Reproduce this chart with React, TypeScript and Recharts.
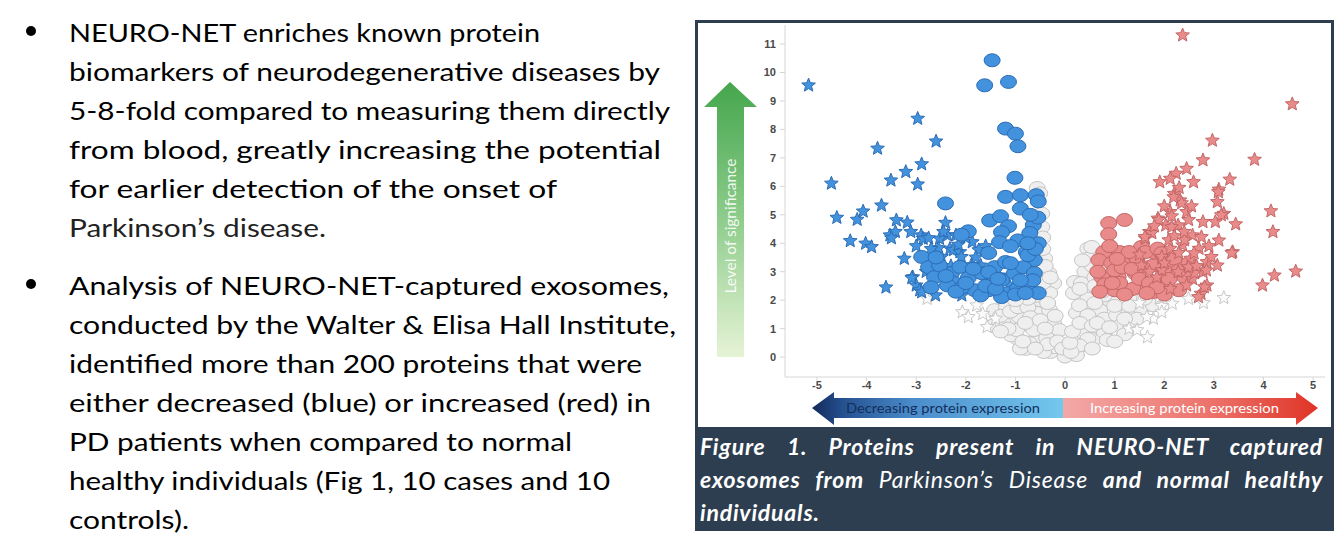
import { Scatter, ScatterChart, XAxis, YAxis } from "recharts"

// log2 fold change (x) vs significance (y)
const greyCircles: [number, number][] = [
  [-0.56, 5.94], [-0.51, 5.75], [-0.47, 5.04], [-0.47, 4.57], [-0.45, 4.2], [-0.41, 3.46],
  [-0.41, 2.93], [-0.37, 2.52], [-0.33, 2.95], [-0.46, 2.05], [-0.23, 2.6], [-0.31, 2.25],
  [-0.87, 1.93], [-1.2, 1.82], [-1.37, 1.58], [-1.45, 1.11], [-1.04, 1.35], [-0.95, 0.64],
  [-0.71, 1.11], [-0.62, 1.58], [-0.54, 0.64], [-0.46, 0.29], [-0.29, 0.18], [0, 0.02],
  [-0.21, 0.76], [-0.29, 1.35], [-0.79, 0.29], [-1.08, 0.76], [-1.42, 1.65], [-1.18, 1.76],
  [-0.84, 1.9], [-0.51, 2.0], [-0.92, 1.41], [-0.57, 1.55], [-0.31, 1.65], [-0.23, 1.19],
  [-0.63, 0.95], [-0.98, 0.95], [-0.72, 0.49], [-0.37, 0.67], [-0.21, 0.35], [-0.43, 0.18],
  [-0.11, 0.95], [-1.25, 1.2], [-0.9, 0.3], [-1.3, 1.45], [-1.1, 1.6], [-0.95, 1.75],
  [-0.75, 1.75], [-0.7, 1.4], [-0.8, 1.2], [-0.5, 1.3], [-0.4, 1.0], [-0.35, 0.45], [-0.6, 0.3],
  [-0.85, 0.55], [-1.15, 1.0], [-1.3, 0.9], [-0.15, 0.55], [-0.05, 0.3], [-0.6, 2.15],
  [-0.75, 2.05], [-1.0, 2.0], [-0.45, 2.6], [-0.4, 3.2], [-0.45, 3.8], [-0.35, 1.9], [-0.2, 1.45],
  [-0.3, 2.8],
  [0.23, 0.07], [0.43, 0.42], [0.37, 0.84], [0.63, 0.67], [0.23, 1.55], [0.43, 1.9],
  [0.57, 1.41], [0.7, 1.65], [0.9, 2.0], [0.98, 1.3], [1.1, 1.65], [0.5, 2.35], [0.84, 2.43],
  [1.24, 2.11], [1.38, 1.76], [0.17, 2.25], [0.19, 2.64], [0.74, 0.95], [0.46, 3.81],
  [0.46, 3.46], [0.4, 3.0], [0.33, 2.6], [0.46, 2.05], [0.29, 1.82], [0.46, 1.47], [0.79, 1.35],
  [1.04, 1.47], [1.29, 1.58], [1.54, 1.7], [1.78, 1.82], [0.79, 0.88], [0.46, 0.64],
  [0.29, 0.41], [0.12, 0.18], [1.04, 2.05], [1.37, 2.0], [0.79, 2.17], [1.12, 1.11],
  [1.45, 1.35], [0.54, 3.87], [0.55, 3.2], [0.6, 2.8], [1.6, 2.05], [1.2, 0.8],
  [0.1, 0.5], [0.15, 0.9], [0.3, 1.2], [0.55, 1.1], [0.65, 1.2], [0.9, 1.05], [0.6, 1.9],
  [0.75, 2.3], [1.0, 1.8], [1.2, 1.35], [1.3, 1.8], [0.35, 3.4], [0.3, 2.4], [0.55, 0.3],
  [0.85, 0.6], [1.0, 0.55], [0.6, 2.5], [1.15, 2.3],
]

const greyStars: [number, number][] = [
  [-2.78, 2.05], [-2.07, 1.58], [-1.95, 1.41], [-1.66, 1.52], [-1.78, 1.82], [-1.57, 1.06],
  [-1.4, 1.35], [2.49, 2.05], [2.79, 1.9], [3.2, 2.08], [2.16, 1.88], [1.95, 1.8], [1.66, 0.7],
  [1.78, 1.35], [1.29, 1.0], [1.95, 1.58], [1.65, 1.41], [1.5, 1.9], [1.45, 0.95], [1.9, 2.1],
]

const blueStars: [number, number][] = [
  [-5.17, 9.55], [-4.71, 6.1], [-4.6, 4.9], [-4.33, 4.08], [-4.19, 4.83], [-4.07, 5.12],
  [-4.02, 3.99], [-3.9, 3.87], [-3.78, 7.33], [-3.7, 5.33], [-3.61, 2.45], [-3.51, 6.21],
  [-3.53, 4.28], [-3.4, 4.81], [-3.42, 4.4], [-3.24, 3.46], [-3.21, 6.51], [-3.18, 4.73],
  [-3.11, 4.4], [-3.07, 2.81], [-3.0, 2.52], [-2.97, 6.07], [-2.97, 8.38], [-2.89, 6.78],
  [-2.9, 4.28], [-2.93, 2.35], [-2.86, 4.16], [-2.6, 7.58], [-2.61, 2.17], [-2.41, 4.72],
  [-2.37, 4.28], [-2.32, 3.81], [-2.49, 3.52], [-2.53, 4.16], [-2.55, 3.83], [-2.25, 3.76],
  [-2.2, 4.28], [-2.12, 3.69], [-1.87, 4.04], [-1.74, 3.76], [-2.08, 2.17], [-1.7, 3.22],
  [-1.54, 2.64], [-1.33, 2.87], [-1.12, 2.52], [-2.53, 2.99], [-3.09, 2.78], [-2.89, 2.28],
  [-2.75, 4.18], [-2.09, 3.52], [-1.89, 3.23], [-3.5, 4.18], [-2.3, 3.2], [-1.6, 3.9],
  [-1.95, 2.8], [-2.7, 3.8], [-2.45, 4.4], [-2.15, 3.95], [-2.0, 4.2], [-1.8, 3.5], [-2.8, 3.0],
  [-3.0, 3.9],
]

const blueCircles: [number, number][] = [
  [-1.47, 10.43], [-1.62, 9.55], [-1.14, 9.67], [-1.2, 8.03], [-1.0, 7.85], [-0.95, 7.41],
  [-1.01, 6.3], [-1.2, 5.63], [-0.9, 5.69], [-0.58, 5.69], [-0.9, 5.22], [-0.54, 5.47],
  [-2.41, 5.4], [-1.52, 4.8], [-1.3, 4.95], [-1.14, 4.6], [-1.28, 4.39], [-0.64, 4.64],
  [-0.71, 4.36], [-0.54, 4.0], [-1.32, 4.04], [-1.95, 4.42], [-2.09, 4.3], [-0.78, 3.69],
  [-1.54, 3.66], [-0.62, 3.41], [-2.89, 3.52], [-2.75, 3.16], [-2.63, 2.81], [-2.29, 2.95],
  [-2.23, 2.6], [-1.95, 2.78], [-1.68, 2.95], [-1.42, 3.16], [-1.28, 2.71], [-1.02, 2.95],
  [-0.84, 3.16], [-0.74, 2.6], [-0.54, 2.25], [-1.14, 2.25], [-1.54, 2.35], [-1.82, 2.35],
  [-2.09, 2.43], [-1.28, 2.11], [-0.62, 2.95], [-2.53, 3.22], [-2.12, 3.17], [-1.2, 3.34],
  [-0.75, 3.58], [-0.96, 2.4], [-1.7, 2.17], [-2.37, 2.52], [-1.54, 2.99], [-0.95, 4.1],
  [-1.1, 3.9], [-2.6, 3.5], [-2.4, 2.85], [-2.2, 2.3], [-2.0, 2.6], [-1.85, 3.1], [-1.6, 2.5],
  [-1.4, 2.4], [-1.0, 2.2], [-0.8, 2.25], [-0.65, 2.7], [-0.6, 3.8], [-0.75, 4.0], [-1.1, 3.3],
  [-0.9, 2.7], [-1.35, 2.75], [-2.7, 2.45], [-0.55, 4.9], [-0.7, 5.0],
]

const redCircles: [number, number][] = [
  [0.88, 4.71], [1.2, 4.82], [0.88, 4.32], [0.78, 3.69], [1.1, 3.69], [0.68, 3.41], [0.94, 3.3],
  [1.28, 3.41], [1.54, 3.87], [0.74, 2.81], [1.07, 2.81], [1.41, 2.95], [1.68, 3.16],
  [1.28, 2.35], [1.61, 2.46], [1.95, 2.6], [1.81, 3.66], [2.15, 3.3], [1.0, 2.35], [2.41, 2.81],
  [2.29, 2.35], [0.66, 3.0], [1.0, 3.05], [1.45, 3.46], [1.62, 3.69], [1.29, 3.69], [1.78, 3.22],
  [2.03, 2.99], [1.87, 3.81], [2.2, 3.46], [1.78, 2.29], [1.37, 2.4], [0.8, 2.55], [2.0, 2.2],
  [1.1, 2.6], [0.7, 2.3], [0.95, 2.6], [1.15, 3.15], [1.35, 3.1], [1.5, 2.75], [1.7, 2.6],
  [1.85, 2.45], [2.1, 2.75], [2.3, 3.05], [1.65, 2.25], [1.2, 2.2], [0.9, 3.9], [1.05, 3.45],
  [1.95, 3.65], [2.5, 3.3],
]

const redStars: [number, number][] = [
  [2.37, 11.31], [4.58, 8.89], [2.97, 7.61], [2.78, 6.92], [3.82, 6.94], [2.45, 6.62],
  [2.24, 6.45], [2.12, 6.27], [1.91, 6.15], [2.59, 6.15], [3.32, 6.24], [3.1, 5.89], [2.2, 5.74],
  [2.32, 5.51], [3.07, 5.45], [3.2, 5.04], [4.15, 5.13], [3.44, 4.67], [3.03, 4.75], [2.78, 4.75],
  [4.19, 4.4], [3.1, 4.1], [3.38, 3.69], [2.86, 3.34], [3.07, 3.22], [4.65, 3.01], [4.22, 2.87],
  [3.98, 2.52], [2.86, 2.52], [2.74, 2.23], [1.87, 4.87], [2.12, 5.1], [2.45, 5.1], [2.03, 4.63],
  [2.28, 4.63], [2.57, 4.28], [1.7, 4.4], [2.37, 3.93], [2.7, 3.81], [2.12, 3.81], [2.53, 3.46],
  [2.78, 2.99], [2.57, 2.75], [2.45, 2.52], [1.62, 4.16], [1.95, 3.46], [1.54, 3.22], [2.28, 2.99],
  [2.12, 2.4], [1.89, 4.82], [2.15, 4.57], [2.49, 4.82], [1.75, 4.36], [2.09, 4.11], [2.41, 4.11],
  [2.75, 4.22], [2.95, 3.52], [2.61, 2.95], [2.81, 2.46], [2.69, 2.11], [2.29, 3.66], [2.49, 3.16],
  [1.95, 3.06], [1.61, 4.22], [1.95, 3.52], [3.09, 5.8], [3.15, 4.99], [2.35, 5.41], [2.19, 5.62],
  [3.36, 3.66], [1.7, 3.0], [1.85, 2.8], [2.0, 3.3], [2.15, 4.95], [2.4, 4.4], [2.6, 3.65],
  [2.65, 3.2], [2.9, 3.9], [2.2, 4.25], [1.8, 4.6], [1.5, 3.6], [2.55, 5.3], [2.0, 5.3],
  [2.3, 5.95], [2.85, 3.05],
]

const xTicks = [-5, -4, -3, -2, -1, 0, 1, 2, 3, 4, 5]
const yTicks = [0, 1, 2, 3, 4, 5, 6, 7, 8, 9, 10, 11]

const bullet1 = [
  "NEURO-NET enriches known protein",
  "biomarkers of neurodegenerative diseases by",
  "5-8-fold compared to measuring them directly",
  "from blood, greatly increasing the potential",
  "for earlier detection of the onset of",
  "Parkinson\u2019s disease.",
]
const bullet1Ends = [540, 660, 670, 661, 557, 326]

const bullet2 = [
  "Analysis of NEURO-NET-captured exosomes,",
  "conducted by the Walter & Elisa Hall Institute,",
  "identified more than 200 proteins that were",
  "either decreased (blue) or increased (red) in",
  "PD patients when compared to normal",
  "healthy individuals (Fig 1, 10 cases and 10",
  "controls).",
]
const bullet2Ends = [669, 676, 642, 651, 572, 610, 189]

const toPoints = (list: [number, number][]) => list.map(([x, y]) => ({ x, y }))

const ellipseShape = (fill: string, stroke: string) => (props: any) => (
  <ellipse cx={props.cx} cy={props.cy} rx={8} ry={6.5} fill={fill} stroke={stroke} strokeWidth={1} />
)

const starShape = (fill: string, stroke: string) => (props: any) => {
  const pts: string[] = []
  for (let i = 0; i < 10; i++) {
    const a = -Math.PI / 2 + (i * Math.PI) / 5
    const r = i % 2 === 0 ? 7.2 : 3.2
    pts.push(`${props.cx + r * Math.cos(a)},${props.cy + r * Math.sin(a)}`)
  }
  return <polygon points={pts.join(" ")} fill={fill} stroke={stroke} strokeWidth={1} strokeLinejoin="round" />
}

const tickStyle = { fontSize: 11, fontWeight: 700, fill: "#4a4a4a", fontFamily: "Liberation Sans, Arial, sans-serif" }
const navy = "#2d3e50"

const App = () => {
  return (
    <div style={{ position: "absolute", left: 0, top: 0, width: 1342, height: 550, background: "#fff", overflow: "hidden" }}>
      {/* left bullet text */}
      <svg width={690} height={550} style={{ position: "absolute", left: 0, top: 0 }}>
        <circle cx={31} cy={31} r={5} fill="#000" />
        <circle cx={31} cy={284} r={5} fill="#000" />
        {bullet1.map((line, i) => (
          <text key={line} x={69} y={42 + i * 39} fontSize={25} fontFamily="Lato, sans-serif" fill={i === 5 ? "#222" : "#000"}
            textLength={bullet1Ends[i] - 69} lengthAdjust="spacingAndGlyphs">
            {line}
          </text>
        ))}
        {bullet2.map((line, i) => (
          <text key={line} x={69} y={295 + i * 39} fontSize={25} fontFamily="Lato, sans-serif" fill="#000"
            textLength={bullet2Ends[i] - 69} lengthAdjust="spacingAndGlyphs">
            {line}
          </text>
        ))}
      </svg>

      {/* figure frame */}
      <div style={{ position: "absolute", left: 695, top: 20, width: 639, height: 511, boxSizing: "border-box", border: `3px solid ${navy}`, background: "#fff" }} />

      <div style={{ position: "absolute", left: 698, top: 23 }}>
        <ScatterChart width={630} height={378} margin={{ top: 2, right: 3, bottom: 0, left: 0 }}>
          <XAxis type="number" dataKey="x" domain={[-5.645, 5.24]} ticks={xTicks} allowDataOverflow
            height={24} tickSize={4} tickMargin={0} tick={tickStyle} stroke="#d6d6d6" />
          <YAxis type="number" dataKey="y" domain={[-0.7, 11.67]} ticks={yTicks} allowDataOverflow
            width={87} tickSize={5} tickMargin={4} tick={tickStyle} stroke="#d6d6d6" />
          <Scatter data={toPoints(greyCircles)} shape={ellipseShape("#efefef", "#c4c4c4")} isAnimationActive={false} />
          <Scatter data={toPoints(greyStars)} shape={starShape("#fbfbfb", "#c8c8c8")} isAnimationActive={false} />
          <Scatter data={toPoints(blueStars)} shape={starShape("#4392dd", "#2c6db5")} isAnimationActive={false} />
          <Scatter data={toPoints(blueCircles)} shape={ellipseShape("#4392dd", "#2c6db5")} isAnimationActive={false} />
          <Scatter data={toPoints(redCircles)} shape={ellipseShape("#e98b8b", "#c46666")} isAnimationActive={false} />
          <Scatter data={toPoints(redStars)} shape={starShape("#e98b8b", "#c46666")} isAnimationActive={false} />
        </ScatterChart>
      </div>

      {/* arrows */}
      <svg width={1342} height={550} style={{ position: "absolute", left: 0, top: 0, pointerEvents: "none" }}>
        <defs>
          <linearGradient id="greenUp" x1="0" y1="1" x2="0" y2="0">
            <stop offset="0" stopColor="#e6f3d6" />
            <stop offset="0.55" stopColor="#86c985" />
            <stop offset="1" stopColor="#45a64d" />
          </linearGradient>
          <linearGradient id="blueLeft" x1="812" y1="0" x2="1063" y2="0" gradientUnits="userSpaceOnUse">
            <stop offset="0" stopColor="#14295a" />
            <stop offset="0.12" stopColor="#24508f" />
            <stop offset="0.4" stopColor="#4b8ccb" />
            <stop offset="1" stopColor="#74c8ee" />
          </linearGradient>
          <linearGradient id="redRight" x1="1063" y1="0" x2="1318" y2="0" gradientUnits="userSpaceOnUse">
            <stop offset="0" stopColor="#f3a9a8" />
            <stop offset="0.6" stopColor="#ec7068" />
            <stop offset="1" stopColor="#df3325" />
          </linearGradient>
        </defs>
        <polygon points="730,82 757,107 744,107 744,357 717,357 717,107 704,107" fill="url(#greenUp)" />
        <text x={0} y={0} transform="translate(736,226) rotate(-90)" textAnchor="middle" fontSize={15}
          fontFamily="Lato, sans-serif" fill="#ffffff" fillOpacity={0.9} textLength={135} lengthAdjust="spacingAndGlyphs">
          Level of significance
        </text>
        <polygon points="812,408 834,392 834,398 1063,398 1063,418 834,418 834,425" fill="url(#blueLeft)" />
        <polygon points="1318,408 1296,392 1296,398 1063,398 1063,418 1296,418 1296,425" fill="url(#redRight)" />
        <text x={846} y={413} fontSize={14} fontFamily="Lato, sans-serif" fill="#142f5c"
          textLength={194} lengthAdjust="spacingAndGlyphs">
          Decreasing protein expression
        </text>
        <text x={1090} y={413} fontSize={14} fontFamily="Lato, sans-serif" fill="#ffffff"
          textLength={189} lengthAdjust="spacingAndGlyphs">
          Increasing protein expression
        </text>
      </svg>

      {/* caption */}
      <div style={{ position: "absolute", left: 695, top: 427, width: 639, height: 104, background: navy }} />
      <div style={{ position: "absolute", left: 700, top: 430, width: 623, color: "#fff", fontFamily: "Lato, sans-serif",
        fontStyle: "italic", fontWeight: 700, fontSize: 23, letterSpacing: 0.8, lineHeight: "33px" }}>
        <div style={{ textAlign: "justify", textAlignLast: "justify" }}>Figure 1. Proteins present in NEURO-NET captured</div>
        <div style={{ textAlign: "justify", textAlignLast: "justify" }}>
          exosomes from <span style={{ fontWeight: 400 }}>Parkinson{"\u2019"}s Disease</span> and normal healthy
        </div>
        <div>individuals.</div>
      </div>
    </div>
  )
}

export default App
